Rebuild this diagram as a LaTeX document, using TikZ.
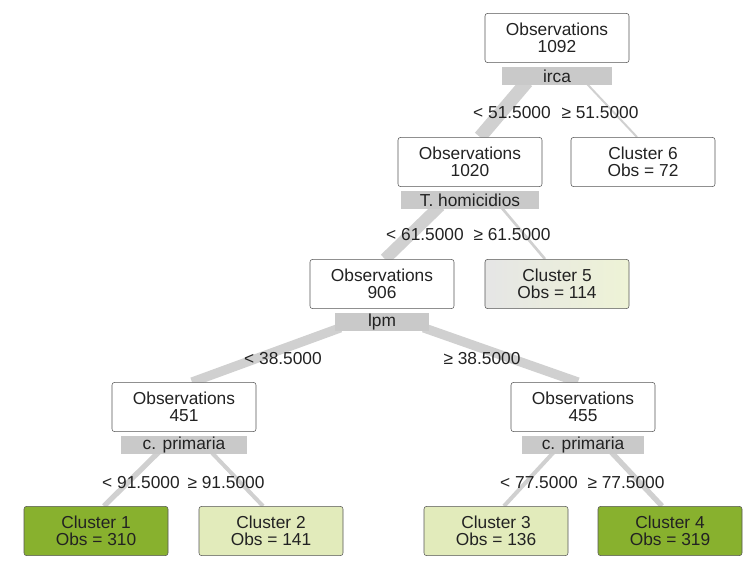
\documentclass[tikz,border=0pt]{standalone}
\usepackage{fontspec}
\setmainfont{Liberation Sans}
\usepackage{tikz}
\usetikzlibrary{positioning,calc,backgrounds}

\definecolor{boxline}{HTML}{555555}
\definecolor{splitgray}{HTML}{C9C9C9}
\definecolor{edgegray}{HTML}{D0D0D0}
\definecolor{leafdark}{HTML}{88B12E}
\definecolor{leaflight}{HTML}{E2EBBB}
\definecolor{leafpale}{HTML}{EEF3D6}
\definecolor{txt}{HTML}{222222}

\begin{document}
\begin{tikzpicture}[x=0.75pt, y=-0.75pt, node distance=3pt,
  font=\fontsize{13}{13}\selectfont, text=txt,
  obs/.style={rectangle, rounded corners=2pt, draw=boxline, fill=white, minimum width=108pt, minimum height=37pt, align=center, inner sep=1pt},
  darkleaf/.style={obs, fill=leafdark},
  lightleaf/.style={obs, fill=leaflight},
  split/.style={rectangle, fill=splitgray, minimum height=13pt, inner sep=0pt},
  cut/.style={inner sep=0pt},
  branch/.style={draw=edgegray, line cap=butt}]

  \useasboundingbox (0,0) rectangle (743,564);

  % internal nodes and their split variables
  \node [obs] (root) at (557,38) {Observations\\1092};
  \node [split, minimum width=82pt, below=of root] (irca) {irca};
  \node [obs] (n1020) at (470,162) {Observations\\1020};
  \node [split, minimum width=103pt, below=of n1020] (thom) {T. homicidios};
  \node [obs] (n906) at (382,284) {Observations\\906};
  \node [split, minimum width=71pt, below=of n906] (lpm) {lpm};
  \node [obs] (n451) at (184,407) {Observations\\451};
  \node [split, minimum width=95pt, below=of n451] (cpa) {c. primaria};
  \node [obs] (n455) at (583,407) {Observations\\455};
  \node [split, minimum width=92pt, below=of n455] (cpb) {c. primaria};

  % clusters
  \node [obs] (c6) at (643,162) {Cluster 6\\Obs = 72};
  \node [obs, left color=black!10, right color=leafpale] (c5) at (557,284) {Cluster 5\\Obs = 114};
  \node [darkleaf] (c1) at (96,531) {Cluster 1\\Obs = 310};
  \node [lightleaf] (c2) at (271,531) {Cluster 2\\Obs = 141};
  \node [lightleaf] (c3) at (496,531) {Cluster 3\\Obs = 136};
  \node [darkleaf] (c4) at (670,531) {Cluster 4\\Obs = 319};

  % branches
  \begin{scope}[on background layer]
    \draw [branch, line width=10pt] ($(irca.south)+(-30,-3)$) -- ($(n1020.north)+(10,0)$);
    \draw [branch, line width=1.5pt] ($(irca.south)+(28,-3)$) -- ($(c6.north)+(-6,0)$);
    \draw [branch, line width=9pt] ($(thom.south)+(-30,-3)$) -- ($(n906.north)+(3,0)$);
    \draw [branch, line width=2pt] ($(thom.south)+(30,-3)$) -- ($(c5.north)+(-12,0)$);
    \draw [branch, line width=7pt] ($(lpm.south west)+(6,-3)$) -- ($(n451.north)+(8,0)$);
    \draw [branch, line width=7pt] ($(lpm.south east)+(-6,-3)$) -- ($(n455.north)+(-5,0)$);
    \draw [branch, line width=4pt] ($(cpa.south)+(-24,-3)$) -- ($(c1.north)+(8,0)$);
    \draw [branch, line width=3pt] ($(cpa.south)+(26,-3)$) -- ($(c2.north)+(-8,0)$);
    \draw [branch, line width=3pt] ($(cpb.south)+(-28,-3)$) -- ($(c3.north)+(8,0)$);
    \draw [branch, line width=4pt] ($(cpb.south)+(27,-3)$) -- ($(c4.north)+(-8,0)$);
  \end{scope}

  % cut points
  \node [cut] (lt1) at (512,113) {< 51.5000};
  \node [cut] (ge1) at (600,113) {≥ 51.5000};
  \node [cut] (lt2) at (425,235) {< 61.5000};
  \node [cut] (ge2) at (512,235) {≥ 61.5000};
  \node [cut] (lt3) at (283,359) {< 38.5000};
  \node [cut] (ge3) at (482,359) {≥ 38.5000};
  \node [cut] (lt4) at (141,483) {< 91.5000};
  \node [cut] (ge4) at (226,483) {≥ 91.5000};
  \node [cut] (lt5) at (539,483) {< 77.5000};
  \node [cut] (ge5) at (626,483) {≥ 77.5000};
\end{tikzpicture}
\end{document}
